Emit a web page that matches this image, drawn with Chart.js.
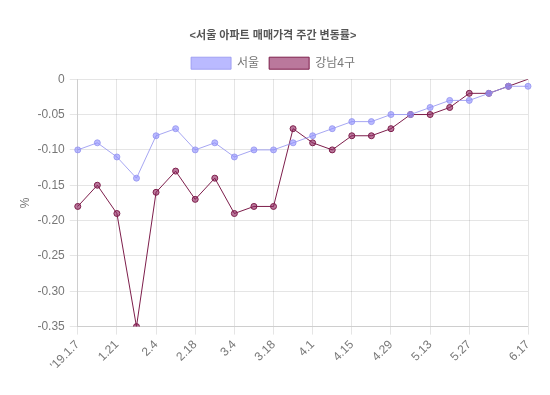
<!DOCTYPE html>
<html>
<head>
<meta charset="utf-8">
<script src="https://cdn.jsdelivr.net/npm/chart.js@4"></script>
<style>
  html, body { margin: 0; padding: 0; background: #fff; }
  #wrap { width: 550px; height: 395px; }
</style>
</head>
<body>
<div id="wrap"><canvas id="grafico" width="550" height="395"></canvas></div>
<script>
// Semanas (2019)
const semanas = ["'19.1.7", '1.14', '1.21', '1.28', '2.4', '2.11', '2.18', '2.25', '3.4', '3.11', '3.18', '3.25',
    '4.1', '4.8', '4.15', '4.22', '4.29', '5.6', '5.13', '5.20', '5.27', '6.3', '6.10', '6.17'];

// Variación semanal (%)
const seoul = [-0.10, -0.09, -0.11, -0.14, -0.08, -0.07, -0.10, -0.09, -0.11, -0.10, -0.10, -0.09,
    -0.08, -0.07, -0.06, -0.06, -0.05, -0.05, -0.04, -0.03, -0.03, -0.02, -0.01, -0.01];
const gangnam4 = [-0.18, -0.15, -0.19, -0.35, -0.16, -0.13, -0.17, -0.14, -0.19, -0.18, -0.18, -0.07,
    -0.09, -0.10, -0.08, -0.08, -0.07, -0.05, -0.05, -0.04, -0.02, -0.02, -0.01, 0.00];

const yTicks = [0, -0.05, -0.10, -0.15, -0.20, -0.25, -0.30, -0.35];

Chart.defaults.font.family = "'Liberation Sans', 'Noto Sans CJK KR', sans-serif";
Chart.defaults.color = '#666';

// el último punto de 강남4구 no lleva marcador
const radiosGangnam = gangnam4.map((v, i) => i === gangnam4.length - 1 ? 0 : 3);

const ctx = document.getElementById('grafico').getContext('2d');
const grafico = new Chart(ctx, {
    type: 'line',
    data: {
        labels: semanas,
        datasets: [{
            label: '서울',
            data: seoul,
            borderColor: 'rgba(150,150,240,0.85)',
            backgroundColor: 'rgba(140,140,255,0.6)',
            borderWidth: 1,
            pointRadius: 3,
            pointBorderWidth: 1,
            fill: false,
            tension: 0
        }, {
            label: '강남4구',
            data: gangnam4,
            borderColor: 'rgb(125,30,75)',
            backgroundColor: 'rgba(140,30,90,0.6)',
            borderWidth: 1,
            pointRadius: radiosGangnam,
            pointBorderWidth: 1,
            fill: false,
            tension: 0
        }]
    },
    options: {
        responsive: false,
        animation: false,
        layout: { padding: { top: 14, right: 22, bottom: 19, left: 18 } },
        plugins: {
            title: {
                display: true,
                text: '<서울 아파트 매매가격 주간 변동률>',
                font: { size: 11, weight: 'bold' },
                color: '#555',
                padding: { top: 15, bottom: 5 }
            },
            legend: {
                labels: { boxWidth: 40, boxHeight: 12, font: { size: 12 }, color: '#777' }
            },
            tooltip: { enabled: false }
        },
        scales: {
            x: {
                grid: { color: 'rgba(0,0,0,0.1)' },
                ticks: {
                    autoSkip: false,
                    minRotation: 45,
                    maxRotation: 45,
                    font: { size: 12 },
                    color: '#777',
                    callback: function(value, index) {
                        if (index % 2 === 0 || index === semanas.length - 1) {
                            return index === semanas.length - 2 ? null : semanas[index];
                        }
                        return null;
                    }
                }
            },
            y: {
                min: -0.35,
                max: 0,
                grid: { color: 'rgba(0,0,0,0.1)' },
                title: { display: true, text: '%', font: { size: 12 }, color: '#777', padding: 0 },
                afterBuildTicks: function(scale) {
                    scale.ticks = yTicks.map(v => ({ value: v }));
                },
                ticks: {
                    padding: 5,
                    font: { size: 12 },
                    color: '#777',
                    callback: function(value) {
                        return value === 0 ? '0' : value.toFixed(2);
                    }
                }
            }
        }
    }
});
</script>
</body>
</html>
